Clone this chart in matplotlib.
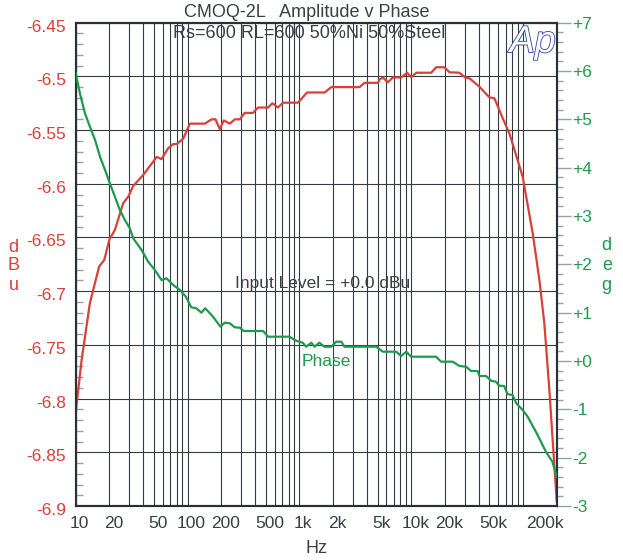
import numpy as np
import matplotlib
matplotlib.use('Agg')
import matplotlib.pyplot as plt
import matplotlib.ticker as mticker
import matplotlib.patheffects as pe
import matplotlib.transforms as mtrans

plt.rcParams['font.family'] = ['Liberation Sans', 'DejaVu Sans']

# amplitude curve (dBu, left axis)
amp_freq = [10, 11.3, 13.4, 16.2, 18, 20, 22.4, 26.6, 29.5, 32.7, 40, 53, 58.5, 67, 74.5, 80,
            91.5, 105, 143, 164, 178, 194, 211, 239, 265, 293, 325, 385, 427, 525, 574, 644,
            714, 972, 1170, 1680, 1930, 3450, 3830, 5040, 5210, 5570, 6180, 6850, 8140, 9200,
            10000, 11100, 15100, 16700, 19800, 22000, 27000, 30500, 33200, 40700, 50000, 55500,
            65800, 75500, 86600, 99200, 122000, 140000, 155000, 172000, 184000, 200000]
amp_dbu = [-6.813, -6.764, -6.711, -6.677, -6.671, -6.652, -6.643, -6.618, -6.612, -6.602,
           -6.592, -6.575, -6.577, -6.567, -6.563, -6.563, -6.558, -6.544, -6.544, -6.540,
           -6.540, -6.549, -6.541, -6.544, -6.540, -6.540, -6.534, -6.534, -6.529, -6.529,
           -6.525, -6.529, -6.5245, -6.5245, -6.515, -6.515, -6.510, -6.510, -6.506, -6.506,
           -6.503, -6.501, -6.5055, -6.501, -6.501, -6.4966, -6.5008, -6.4966, -6.4966,
           -6.4915, -6.4915, -6.4962, -6.4966, -6.5012, -6.5018, -6.5096, -6.5195, -6.5204,
           -6.539, -6.553, -6.5732, -6.5934, -6.646, -6.6896, -6.7299, -6.792, -6.8386, -6.895]

# phase curve (deg, right axis)
ph_freq = [10, 10.9, 12.1, 13.4, 14.9, 16.5, 18.3, 20.2, 22.4, 24.8, 27.5, 30.5, 32.7, 38.8,
           44.5, 51, 58.5, 64.9, 74.5, 85.5, 96.6, 108, 120, 133, 144, 169, 197, 215, 239,
           264, 293, 318, 442, 474, 525, 814, 935, 1070, 1150, 1280, 1365, 1510, 1670, 1930,
           2140, 2370, 2530, 4870, 5570, 7330, 8140, 9020, 10000, 16700, 18500, 23500, 27000,
           31000, 34300, 39300, 40700, 46700, 51700, 57200, 61200, 67800, 72500, 80300, 87200,
           99200, 110000, 135000, 160000, 183000, 200000]
ph_deg = [5.965, 5.539, 5.125, 4.848, 4.573, 4.227, 3.952, 3.677, 3.400, 3.125, 2.918, 2.746,
          2.539, 2.297, 2.055, 1.883, 1.676, 1.711, 1.573, 1.469, 1.331, 1.111, 1.090, 1.000,
          1.090, 0.917, 0.710, 0.793, 0.780, 0.697, 0.690, 0.621, 0.621, 0.621, 0.503, 0.503,
          0.420, 0.379, 0.296, 0.379, 0.296, 0.379, 0.296, 0.296, 0.400, 0.400, 0.296, 0.296,
          0.193, 0.193, 0.103, 0.193, 0.089, 0.089, -0.014, -0.014, -0.103, -0.118, -0.207,
          -0.207, -0.310, -0.310, -0.407, -0.428, -0.511, -0.517, -0.683, -0.703, -0.875,
          -1.014, -1.152, -1.531, -1.876, -2.083, -2.394]

xticks = [10, 20, 50, 100, 200, 500, 1000, 2000, 5000, 10000, 20000, 50000, 200000]
xlabels = ['10', '20', '50', '100', '200', '500', '1k', '2k', '5k', '10k', '20k', '50k', '200k']

red = '#d8403a'
green = '#1e9a4c'
gridc = '#353b41'
tickgray = '#9aa0a6'
textc = '#3a3f44'

fig = plt.figure(figsize=(6.23, 5.6), dpi=100)
ax = fig.add_axes([0.1215, 0.0964, 0.7721, 0.8631])
ax.set_xscale('log')
ax.set_xlim(10, 200000)
ax.set_ylim(-6.9, -6.45)

ax.xaxis.set_major_locator(mticker.FixedLocator(xticks))
ax.xaxis.set_major_formatter(mticker.FixedFormatter(xlabels))
ax.xaxis.set_minor_locator(mticker.LogLocator(base=10, subs=np.arange(1, 10), numticks=20))
ax.xaxis.set_minor_formatter(mticker.NullFormatter())
ax.yaxis.set_major_locator(mticker.MultipleLocator(0.05))
ax.yaxis.set_minor_locator(mticker.MultipleLocator(0.01))
ax.yaxis.set_major_formatter(mticker.FuncFormatter(lambda v, p: ('%.2f' % v).rstrip('0').rstrip('.')))

ax.grid(True, which='both', axis='x', color=gridc, lw=0.8)
ax.grid(True, which='major', axis='y', color=gridc, lw=0.8)
ax.tick_params(axis='x', which='both', length=0, pad=7, labelsize=12.5, labelcolor=textc)
ax.tick_params(axis='y', which='major', length=0, pad=7, labelsize=12.5, labelcolor=red)
ax.tick_params(axis='y', which='minor', direction='in', length=5, width=1, color=tickgray)
for s in ax.spines.values():
    s.set_color('#2b3036')
    s.set_linewidth(1.5)

for lab in ax.get_xticklabels():
    lab.set_transform(lab.get_transform() + mtrans.ScaledTranslation(4 / 100, 0, fig.dpi_scale_trans))
ax.get_xticklabels()[-1].set_transform(ax.get_xticklabels()[-1].get_transform()
                                       + mtrans.ScaledTranslation(-16 / 100, 0, fig.dpi_scale_trans))
for lab in ax.get_yticklabels():
    lab.set_transform(lab.get_transform() + mtrans.ScaledTranslation(0, -3 / 100, fig.dpi_scale_trans))

ax.plot(amp_freq, amp_dbu, color=red, lw=1.6, zorder=3)

ax2 = ax.twinx()
ax2.set_ylim(-3, 7)
ax2.yaxis.set_major_locator(mticker.MultipleLocator(1))
ax2.yaxis.set_minor_locator(mticker.MultipleLocator(0.2))
ax2.yaxis.set_major_formatter(mticker.FuncFormatter(lambda v, p: '%+d' % round(v)))
ax2.tick_params(axis='y', which='major', direction='out', length=10, width=1, color=tickgray,
                pad=1, labelsize=12.5, labelcolor=green)
ax2.tick_params(axis='y', which='minor', direction='out', length=4.5, width=1, color=tickgray)
for s in ax2.spines.values():
    s.set_color('#2b3036')
    s.set_linewidth(1.5)
ax2.plot(ph_freq, ph_deg, color=green, lw=1.6, zorder=3)

# texts
fig.text(0.493, 0.978, 'CMOQ-2L   Amplitude v Phase', ha='center', va='center',
         fontsize=13, color=textc)
fig.text(0.496, 0.941, 'Rs=600 RL=600 50%Ni 50%Steel', ha='center', va='center',
         fontsize=13, color=textc)
ax.text(0.514, 0.461, 'Input Level = +0.0 dBu', transform=ax.transAxes, ha='center',
        va='center', fontsize=12.5, color=textc)
ax.text(0.522, 0.30, 'Phase', transform=ax.transAxes, ha='center', va='center',
        fontsize=12.5, color=green)
for i, ch in enumerate('dBu'):
    fig.text(0.0215, 1 - (247 + 19 * i) / 560, ch, ha='center', va='center', fontsize=13, color=red)
for i, ch in enumerate('deg'):
    fig.text(0.974, 1 - (245 + 20 * i) / 560, ch, ha='center', va='center', fontsize=13, color=green)
fig.text(0.508, 0.021, 'Hz', ha='center', va='center', fontsize=13, color=textc)

logo = fig.text(0.855, 0.907, 'Ap', ha='center', va='baseline', fontsize=27, style='italic',
                color='white')
logo.set_path_effects([pe.Stroke(linewidth=1.3, foreground='#3b4fa3'), pe.Normal()])

fig.savefig('out.png', dpi=100)
